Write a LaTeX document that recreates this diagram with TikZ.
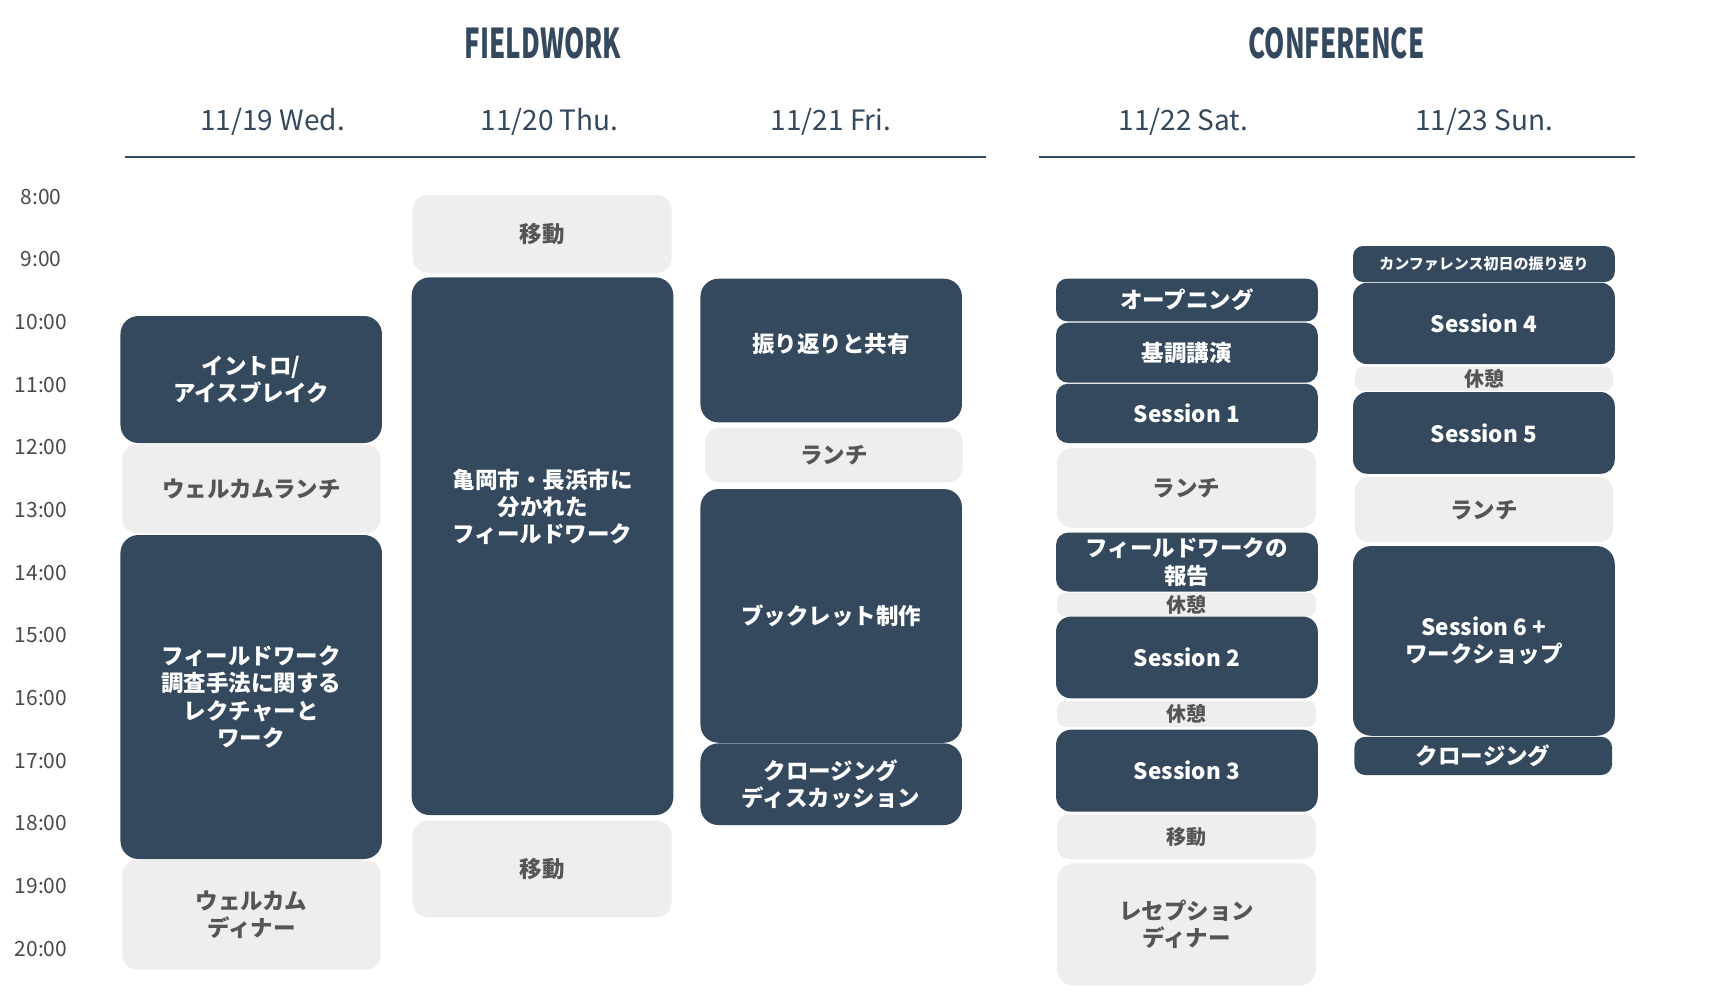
\documentclass[tikz,border=0pt]{standalone}
\usepackage{fontspec}
\setmainfont{Noto Sans CJK JP}
\newfontfamily\headfont{Noto Sans CJK JP}[FakeStretch=0.63]
\definecolor{slotblue}{HTML}{34495E}
\definecolor{slotgray}{HTML}{EEEEEE}
\definecolor{slotink}{HTML}{555555}
\definecolor{hourink}{HTML}{4A4A4A}
\newcommand{\slotfont}{\fontsize{22.5}{27.3}\selectfont\bfseries}
\newcommand{\smallslotfont}{\fontsize{20}{24}\selectfont\bfseries}
\tikzstyle{darkslot}=[rectangle,rounded corners=18,fill=slotblue,text=white,font=\slotfont,align=center,inner sep=0pt,outer sep=0pt]
\tikzstyle{lightslot}=[rectangle,rounded corners=15,fill=slotgray,text=slotink,font=\slotfont,align=center,inner sep=0pt,outer sep=0pt]
\tikzstyle{slotlabel}=[font=\slotfont,text=white,align=center,inner sep=0pt]
\tikzstyle{hour}=[font=\fontsize{21}{25}\selectfont,text=hourink,inner sep=0pt]
\tikzstyle{day}=[font=\fontsize{28}{34}\selectfont,text=slotblue,inner sep=0pt]
\tikzstyle{track}=[font=\headfont\bfseries\fontsize{41}{48}\selectfont,text=slotblue,inner sep=0pt]
\tikzstyle{dayrule}=[draw=slotblue,line width=2]

\begin{document}
\begin{tikzpicture}[x=1pt,y=-1pt]
    \useasboundingbox[fill=white] (0,0) rectangle (1718,1004);
    % headings
    \node[track] (fieldwork) at (543,43.5) {FIELDWORK};
    \node[track] (conference) at (1336.5,43.5) {CONFERENCE};
    \node[day] (wed) at (272.5,122) {11/19 Wed.};
    \node[day] (thu) at (549.5,122) {11/20 Thu.};
    \node[day] (fri) at (831,122) {11/21 Fri.};
    \node[day] (sat) at (1183.5,122) {11/22 Sat.};
    \node[day] (sun) at (1484,122) {11/23 Sun.};
    \coordinate (fwL) at (125,157.3);
    \coordinate (fwR) at (985.7,157.3);
    \coordinate (cfL) at (1039,157.3);
    \coordinate (cfR) at (1634.7,157.3);
    \draw[dayrule] (fwL) -- (fwR);
    \draw[dayrule] (cfL) -- (cfR);
    % hours
    \node[hour] (h8)  at (41,196.7) {8:00};
    \node[hour] (h9)  at (41,259.4) {9:00};
    \node[hour] (h10) at (41,322.0) {10:00};
    \node[hour] (h11) at (41,384.7) {11:00};
    \node[hour] (h12) at (41,447.4) {12:00};
    \node[hour] (h13) at (41,510.0) {13:00};
    \node[hour] (h14) at (41,572.7) {14:00};
    \node[hour] (h15) at (41,635.4) {15:00};
    \node[hour] (h16) at (41,698.1) {16:00};
    \node[hour] (h17) at (41,760.7) {17:00};
    \node[hour] (h18) at (41,823.4) {18:00};
    \node[hour] (h19) at (41,886.1) {19:00};
    \node[hour] (h20) at (41,948.7) {20:00};
    % 11/19
    \node[darkslot,minimum width=261.5,minimum height=127] (intro) at (251.2,379.5) {イントロ/\\アイスブレイク};
    \node[lightslot,minimum width=258.4,minimum height=89] (wlunch) at (251.5,488.8) {ウェルカムランチ};
    \node[darkslot,minimum width=261.5,minimum height=324] (lecture) at (251.2,697) {フィールドワーク\\調査手法に関する\\レクチャーと\\ワーク};
    \node[lightslot,minimum width=258.4,minimum height=109.7] (wdinner) at (251.5,914.9) {ウェルカム\\ディナー};
    % 11/20
    \node[lightslot,minimum width=259,minimum height=77.7] (move1) at (542.2,233.9) {移動};
    \node[darkslot,minimum width=261.6,minimum height=537.7] (split) at (542.5,546.2) {};
    \node[slotlabel] (splitlbl) at (542.5,507) {亀岡市・長浜市に\\分かれた\\フィールドワーク};
    \node[lightslot,minimum width=259,minimum height=96.6] (move2) at (542.2,869) {移動};
    % 11/21
    \node[darkslot,minimum width=261.5,minimum height=143.6] (share) at (831.2,350.5) {};
    \node[slotlabel] (sharelbl) at (831.2,344) {振り返りと共有};
    \node[lightslot,minimum width=257.7,minimum height=54.6] (lunch3) at (833.9,455) {ランチ};
    \node[darkslot,minimum width=261.5,minimum height=253.7] (booklet) at (831.2,615.9) {ブックレット制作};
    \node[darkslot,minimum width=261.5,minimum height=81.7] (closedisc) at (831.2,784.2) {クロージング\\ディスカッション};
    % 11/22
    \node[darkslot,rounded corners=11,minimum width=261.7,minimum height=42.6] (opening) at (1186.9,300) {オープニング};
    \node[darkslot,rounded corners=12,minimum width=261.7,minimum height=60] (keynote) at (1186.9,352.7) {基調講演};
    \node[darkslot,rounded corners=12,minimum width=261.7,minimum height=59.3] (s1) at (1186.9,413.4) {Session 1};
    \node[lightslot,minimum width=259,minimum height=79.7] (lunch4) at (1186.5,487.9) {ランチ};
    \node[darkslot,rounded corners=12,minimum width=261.7,minimum height=58.8] (report) at (1186.9,562.1) {フィールドワークの\\報告};
    \node[lightslot,rounded corners=8,font=\smallslotfont,minimum width=259,minimum height=23.7] (brk1) at (1186.5,604.4) {休憩};
    \node[darkslot,rounded corners=15,minimum width=261.7,minimum height=81.8] (s2) at (1186.9,657.4) {Session 2};
    \node[lightslot,rounded corners=8,font=\smallslotfont,minimum width=259,minimum height=25.7] (brk2) at (1186.5,713.9) {休憩};
    \node[darkslot,rounded corners=15,minimum width=261.7,minimum height=82] (s3) at (1186.9,770.7) {Session 3};
    \node[lightslot,rounded corners=12,font=\smallslotfont,minimum width=259,minimum height=44.7] (move4) at (1186.5,836.7) {移動};
    \node[lightslot,rounded corners=17,minimum width=259,minimum height=122.4] (reception) at (1186.5,924.5) {レセプション\\ディナー};
    % 11/23
    \node[darkslot,rounded corners=10,font=\fontsize{15}{18}\selectfont\bfseries,minimum width=261.7,minimum height=36] (recap) at (1483.9,264) {カンファレンス初日の振り返り};
    \node[darkslot,rounded corners=14,minimum width=261.7,minimum height=81.3] (s4) at (1483.9,323.4) {Session 4};
    \node[lightslot,rounded corners=8,font=\smallslotfont,minimum width=258,minimum height=24.3] (brk5) at (1484,378.8) {休憩};
    \node[darkslot,rounded corners=14,minimum width=261.7,minimum height=81.7] (s5) at (1483.9,432.9) {Session 5};
    \node[lightslot,rounded corners=14,minimum width=258,minimum height=65.3] (lunch5) at (1484,509.7) {ランチ};
    \node[darkslot,rounded corners=18,minimum width=261.7,minimum height=189.7] (s6) at (1483.9,640.9) {Session 6 +\\ワークショップ};
    \node[darkslot,rounded corners=11,minimum width=257.7,minimum height=38.3] (close5) at (1483.2,755.9) {クロージング};
\end{tikzpicture}
\end{document}
